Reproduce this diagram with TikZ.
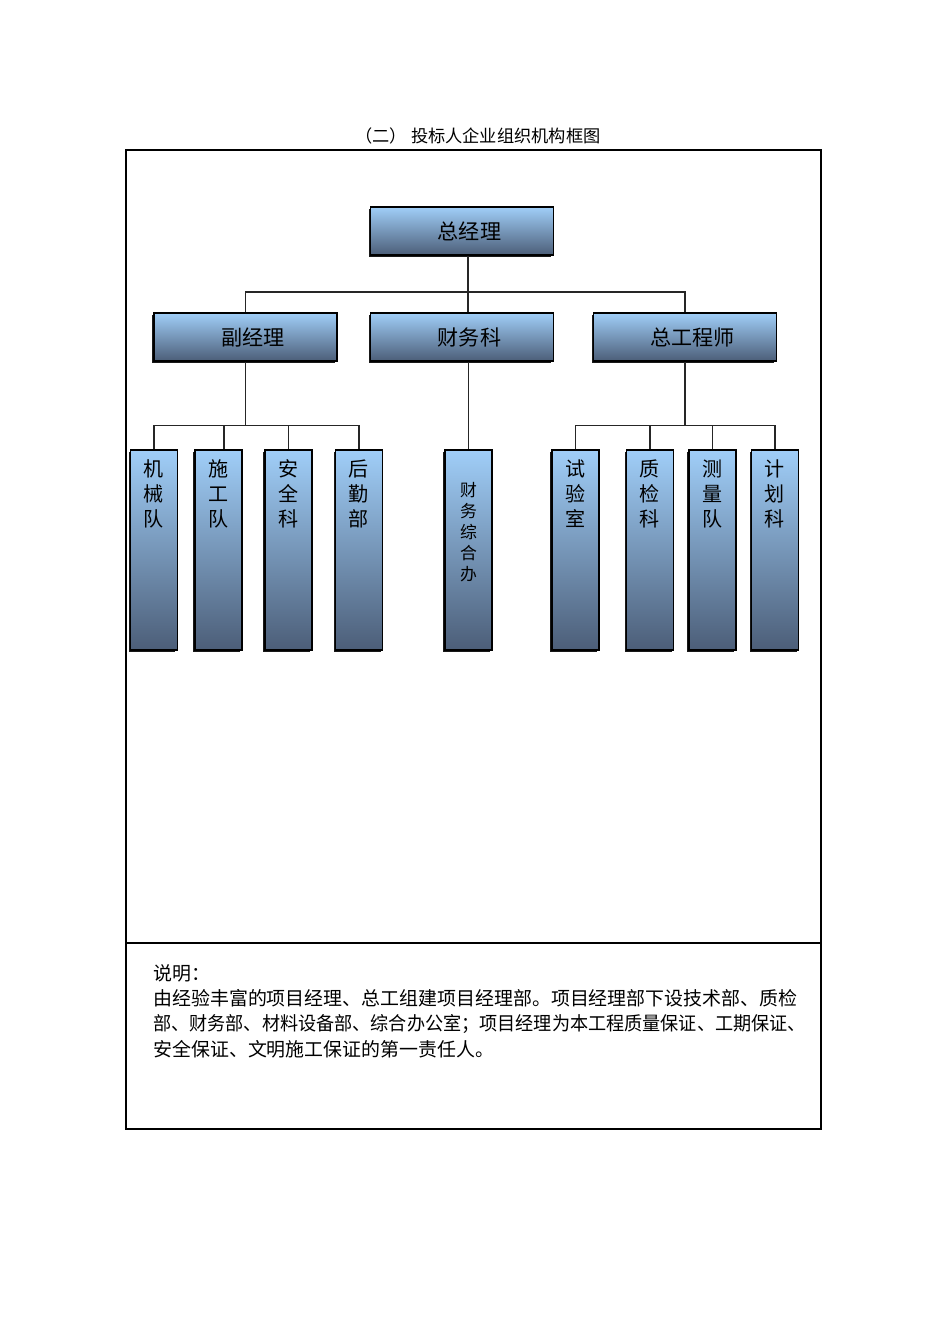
\documentclass[tikz,border=0pt]{standalone}
\usepackage{fontspec}
\setmainfont{Noto Sans CJK SC}
\usetikzlibrary{shadows}
\definecolor{boxtop}{RGB}{160,206,248}
\definecolor{boxmid}{RGB}{118,150,190}
\definecolor{boxbot}{RGB}{76,94,120}
\begin{document}
\begin{tikzpicture}[x=0.02cm, y=-0.02cm]
	\tikzstyle{hbox} = [draw=black, line width=0.6pt, top color=boxtop, middle color=boxmid, bottom color=boxbot, minimum width=3.66cm, minimum height=0.96cm, inner sep=0pt, font=\fontsize{12}{14}\selectfont, drop shadow={shadow xshift=-0.04cm, shadow yshift=-0.04cm, fill=black, opacity=0.9}, execute at begin node={\hspace{0.3cm}}]
	\tikzstyle{vbox} = [draw=black, line width=0.6pt, top color=boxtop, middle color=boxmid, bottom color=boxbot, minimum width=0.94cm, minimum height=4cm, inner sep=0pt, drop shadow={shadow xshift=-0.04cm, shadow yshift=-0.04cm, fill=black, opacity=0.9}]
	\tikzstyle{vtext} = [anchor=north, align=center, inner sep=0pt, font=\fontsize{11.4}{14.2}\selectfont]
	\tikzstyle{conn} = [draw=black!85, line width=0.8pt]
	\tikzstyle{para} = [anchor=base west, inner sep=0pt, font=\fontsize{10.78}{14}\selectfont]

	\fill[white] (0,0) rectangle (950,1344);
	\useasboundingbox (0,0) rectangle (950,1344);

	% frame
	\node[font=\fontsize{9.8}{12}\selectfont] (title) at (478,136) {（二） 投标人企业组织机构框图};
	\draw[line width=0.6pt] (126,150) rectangle (821,1129);
	\draw[line width=0.6pt] (126,943) -- (821,943);

	% top levels
	\node[hbox] (zjl) at (462,231) {总经理};
	\node[hbox] (fjl) at (245.5,337) {副经理};
	\node[hbox] (cwk) at (462,337) {财务科};
	\node[hbox] (zgcs) at (685,337) {总工程师};

	% departments
	\node[vbox] (jxd) at (154,550) {};
	\node[vbox] (sgd) at (218.5,550) {};
	\node[vbox] (aqk) at (288.5,550) {};
	\node[vbox] (hqb) at (359,550) {};
	\node[vbox] (cwzhb) at (468.5,550) {};
	\node[vbox] (syx) at (575.5,550) {};
	\node[vbox] (zjk) at (650,550) {};
	\node[vbox] (cld) at (712.5,550) {};
	\node[vbox] (jhk) at (775,550) {};

	\node[vtext] at ([yshift=-0.2cm]jxd.north) {机\\械\\队};
	\node[vtext] at ([yshift=-0.2cm]sgd.north) {施\\工\\队};
	\node[vtext] at ([yshift=-0.2cm]aqk.north) {安\\全\\科};
	\node[vtext] at ([yshift=-0.2cm]hqb.north) {后\\勤\\部};
	\node[vtext, font=\fontsize{9.6}{11.9}\selectfont] at ([yshift=-0.66cm]cwzhb.north) {财\\务\\综\\合\\办};
	\node[vtext] at ([yshift=-0.2cm]syx.north) {试\\验\\室};
	\node[vtext] at ([yshift=-0.2cm]zjk.north) {质\\检\\科};
	\node[vtext] at ([yshift=-0.2cm]cld.north) {测\\量\\队};
	\node[vtext] at ([yshift=-0.2cm]jhk.north) {计\\划\\科};

	% connectors
	\coordinate (b1) at (468,292);
	\draw[conn] (zjl.south -| b1) -- (b1);
	\draw[conn] (fjl.north) |- (b1) -| (zgcs.north);
	\draw[conn] (b1) -- (b1 |- cwk.north);
	\draw[conn] (fjl.south) -- ++(0,-1.28cm) coordinate (b2);
	\draw[conn] (jxd.north) |- (b2) -| (hqb.north);
	\draw[conn] ([xshift=0.11cm]sgd.north) -- ([xshift=0.11cm]sgd.north |- b2);
	\draw[conn] (aqk.north) -- (aqk.north |- b2);
	\draw[conn] (cwzhb.north |- cwk.south) -- (cwzhb.north);
	\draw[conn] (zgcs.south) -- ++(0,-1.28cm) coordinate (b3);
	\draw[conn] (syx.north) |- (b3) -| (jhk.north);
	\draw[conn] (zjk.north) -- (zjk.north |- b3);
	\draw[conn] (cld.north) -- (cld.north |- b3);

	% notes
	\node[para] (sm) at (153,980) {说明：};
	\node[para] (l1) at (153,1005) {由经验丰富的项目经理、总工组建项目经理部。项目经理部下设技术部、质检};
	\node[para] (l2) at (153,1030) {\scalebox{0.957}[1]{部、财务部、材料设备部、综合办公室；项目经理为本工程质量保证、工期保证、}};
	\node[para] (l3) at (153,1056) {安全保证、文明施工保证的第一责任人。};
\end{tikzpicture}
\end{document}
